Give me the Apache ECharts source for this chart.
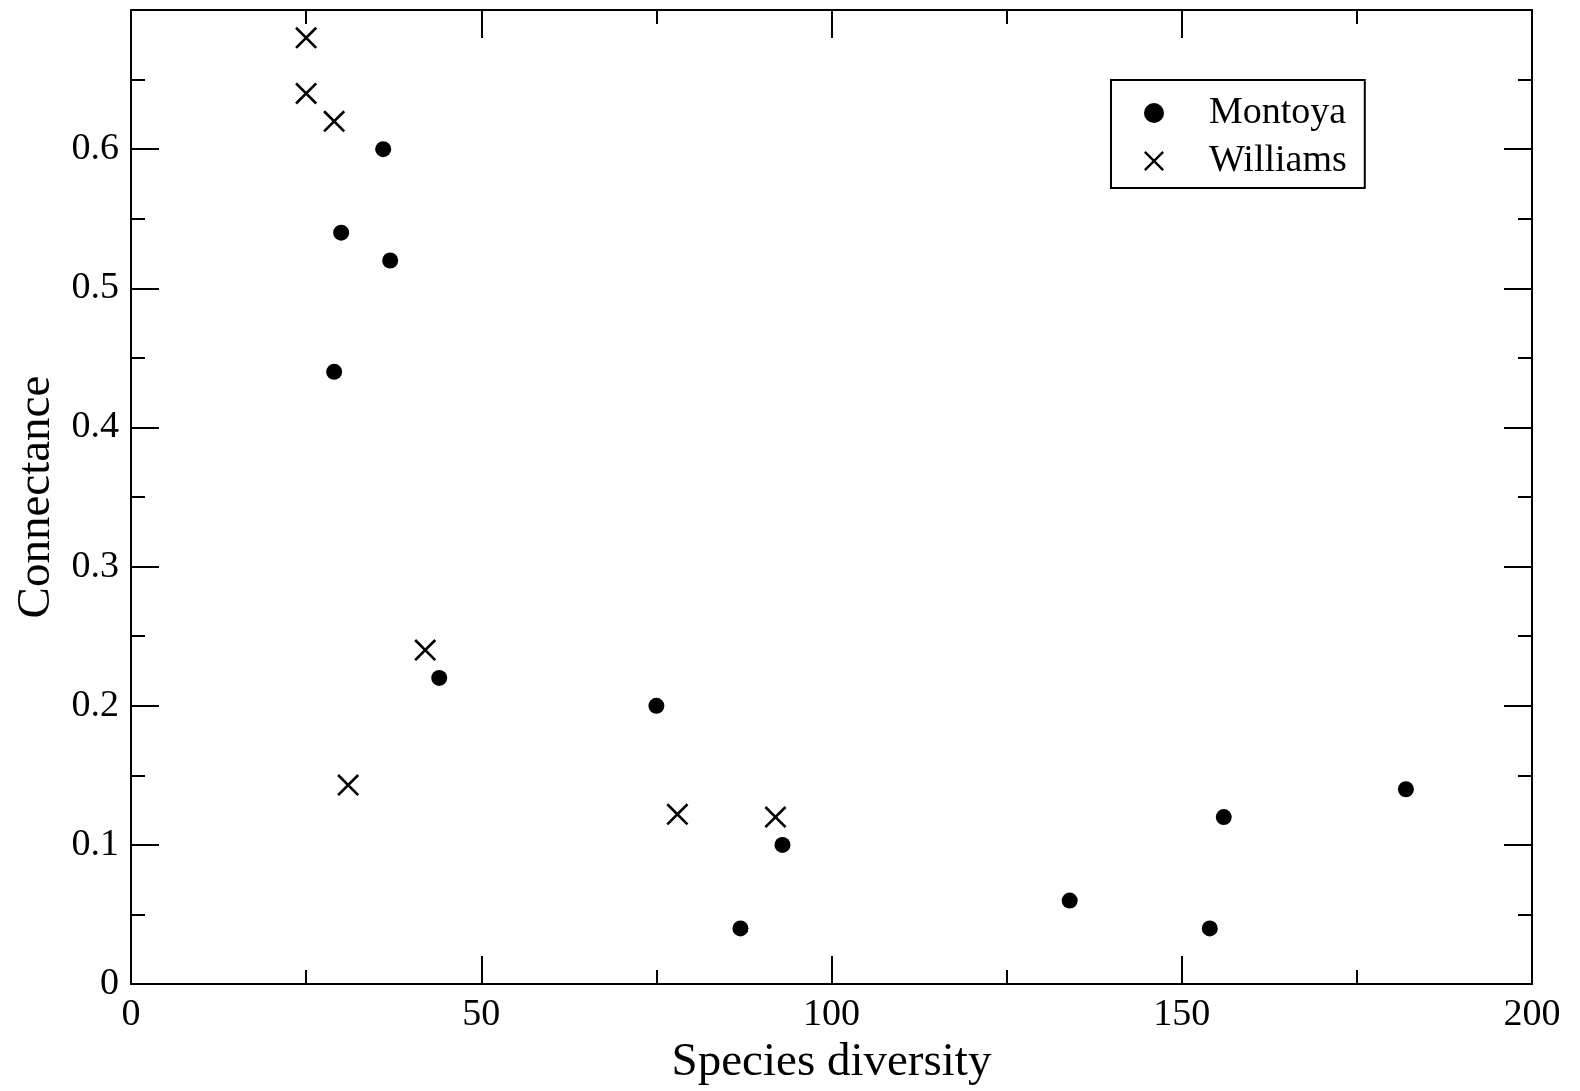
<!DOCTYPE html>
<html>
<head>
<meta charset="utf-8">
<script src="https://cdn.jsdelivr.net/npm/echarts@6/dist/echarts.min.js"></script>
<style>
html,body{margin:0;padding:0;background:#fff;}
#chart{width:1580px;height:1091px;}
</style>
</head>
<body>
<div id="chart"></div>
<script>
// Data
var montoyaX = [36, 30, 37, 29, 44, 75, 87, 93, 134, 154, 156, 182];
var montoyaY = [0.60, 0.54, 0.52, 0.44, 0.22, 0.20, 0.04, 0.10, 0.06, 0.04, 0.12, 0.14];
var williamsX = [25, 25, 29, 42, 31, 78, 92];
var williamsY = [0.68, 0.64, 0.62, 0.24, 0.143, 0.122, 0.12];
var seriesNames = ['Montoya', 'Williams'];
var xTitle = 'Species diversity';
var yTitle = 'Connectance';

function pairs(xs, ys) { return xs.map(function (x, i) { return [x, ys[i]]; }); }

var FONT = 'Liberation Serif';
var crossPath = 'path://M0,8.5L8.5,0L100,91.5L91.5,100Z M91.5,0L100,8.5L8.5,100L0,91.5Z';

var axisLineStyle = { color: '#000', width: 2 };
function axisCommon(extra) {
  var base = {
    axisLine: { show: true, onZero: false, lineStyle: axisLineStyle },
    axisTick: { show: true, inside: true, length: 28, lineStyle: { color: '#000', width: 2 } },
    minorTick: { show: true, splitNumber: 2, length: 14, lineStyle: { color: '#000', width: 2 } },
    splitLine: { show: false },
    minorSplitLine: { show: false }
  };
  for (var k in extra) base[k] = extra[k];
  return base;
}

var chart = echarts.init(document.getElementById('chart'), null, { renderer: 'canvas' });
chart.setOption({
  backgroundColor: '#fff',
  animation: false,
  grid: { left: 131, right: 48, top: 10, bottom: 101, containLabel: false },
  xAxis: [
    axisCommon({
      type: 'value', min: 0, max: 200, interval: 50, position: 'bottom',
      name: xTitle, nameLocation: 'middle', nameGap: 52,
      nameTextStyle: { fontFamily: FONT, fontSize: 47, color: '#000' },
      axisLabel: { show: true, margin: 12, fontFamily: FONT, fontSize: 38, color: '#000' }
    }),
    axisCommon({
      type: 'value', min: 0, max: 200, interval: 50, position: 'top',
      axisLabel: { show: false }
    })
  ],
  yAxis: [
    axisCommon({
      type: 'value', min: 0, max: 0.7, interval: 0.1, position: 'left',
      name: yTitle, nameLocation: 'middle', nameGap: 57,
      nameTextStyle: { fontFamily: FONT, fontSize: 47, color: '#000' },
      axisLabel: {
        show: true, margin: 12, fontFamily: FONT, fontSize: 38, color: '#000',
        formatter: function (v) { return v >= 0.65 ? '' : String(Math.round(v * 10) / 10); }
      }
    }),
    axisCommon({
      type: 'value', min: 0, max: 0.7, interval: 0.1, position: 'right',
      axisLabel: { show: false }
    })
  ],
  legend: {
    orient: 'vertical',
    left: 1111, top: 80,
    padding: [10, 18, 4, 33],
    itemGap: 2,
    itemWidth: 20, itemHeight: 20,
    borderColor: '#000', borderWidth: 2,
    backgroundColor: '#fff',
    textStyle: { fontFamily: FONT, fontSize: 38, color: '#000', lineHeight: 30, padding: [0, 0, 16, 40] },
    data: [
      { name: seriesNames[0], icon: 'circle' },
      { name: seriesNames[1], icon: crossPath }
    ]
  },
  series: [
    {
      name: seriesNames[0], type: 'scatter', xAxisIndex: 0, yAxisIndex: 0,
      symbol: 'circle', symbolSize: 16,
      itemStyle: { color: '#000', opacity: 1 },
      data: pairs(montoyaX, montoyaY)
    },
    {
      name: seriesNames[1], type: 'scatter', xAxisIndex: 0, yAxisIndex: 0,
      symbol: crossPath, symbolSize: 22,
      itemStyle: { color: '#000', opacity: 1 },
      data: pairs(williamsX, williamsY)
    }
  ]
});
</script>
</body>
</html>
